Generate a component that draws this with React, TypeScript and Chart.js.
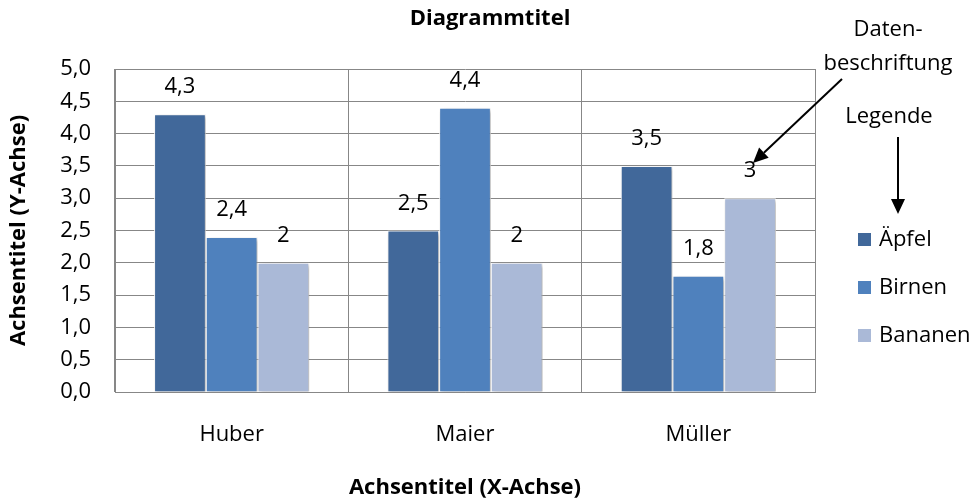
import React, { useEffect, useRef } from "react";
import { Chart, registerables } from "chart.js";

Chart.register(...registerables);

const categories = ["Huber", "Maier", "Müller"];
const seriesNames = ["Äpfel", "Birnen", "Bananen"];
const aepfel = [4.3, 2.5, 3.5];
const birnen = [2.4, 4.4, 1.8];
const bananen = [2, 2, 3];
const colors = ["#41689A", "#4F81BD", "#AAB9D7"];
const yTicksMin = 0;
const yTicksMax = 5;
const yStep = 0.5;

const FONT = "'Open Sans', Lato, sans-serif";
const FS = 22;
const FSB = 22;

const fmt = (v: number) => v.toLocaleString("de-DE");

const drawArrow = (ctx: CanvasRenderingContext2D, x1: number, y1: number, x2: number, y2: number) => {
  const ang = Math.atan2(y2 - y1, x2 - x1);
  const hl = 15, hw = 7;
  const bx = x2 - hl * Math.cos(ang);
  const by = y2 - hl * Math.sin(ang);
  ctx.save();
  ctx.strokeStyle = "#000";
  ctx.fillStyle = "#000";
  ctx.lineWidth = 2;
  ctx.beginPath();
  ctx.moveTo(x1, y1);
  ctx.lineTo(bx, by);
  ctx.stroke();
  ctx.beginPath();
  ctx.moveTo(x2, y2);
  ctx.lineTo(bx + hw * Math.sin(ang), by - hw * Math.cos(ang));
  ctx.lineTo(bx - hw * Math.sin(ang), by + hw * Math.cos(ang));
  ctx.closePath();
  ctx.fill();
  ctx.restore();
};

const extrasPlugin = {
  id: "extras",
  beforeDatasetsDraw(chart: any) {
    const ctx = chart.ctx;
    ctx.save();
    ctx.shadowColor = "rgba(0,0,0,0.3)";
    ctx.shadowBlur = 4;
    ctx.shadowOffsetX = 2;
    ctx.shadowOffsetY = 2;
  },
  afterDatasetsDraw(chart: any) {
    const ctx = chart.ctx;
    ctx.restore();
    ctx.save();
    ctx.font = `${FS}px ${FONT}`;
    ctx.fillStyle = "#000";
    ctx.textAlign = "center";
    ctx.textBaseline = "middle";
    chart.data.datasets.forEach((ds: any, i: number) => {
      const meta = chart.getDatasetMeta(i);
      meta.data.forEach((bar: any, j: number) => {
        ctx.fillText(fmt(ds.data[j]), bar.x, bar.y - 27);
      });
    });
    ctx.restore();
  },
  afterDraw(chart: any) {
    const ctx = chart.ctx;
    ctx.save();
    ctx.fillStyle = "#000";
    ctx.textAlign = "center";
    ctx.textBaseline = "middle";
    ctx.font = `bold ${FSB}px ${FONT}`;
    ctx.fillText("Diagrammtitel", 490, 19);
    ctx.font = `${FS}px ${FONT}`;
    ctx.textAlign = "left";
    const ys = [239, 287, 335];
    chart.data.datasets.forEach((ds: any, i: number) => {
      ctx.fillStyle = ds.backgroundColor;
      ctx.fillRect(858, ys[i] - 6, 13, 13);
      ctx.fillStyle = "#000";
      ctx.fillText(ds.label, 879, ys[i] + 1);
    });
    ctx.textAlign = "center";
    ctx.fillText("Daten-", 888, 30);
    ctx.fillText("beschriftung", 888, 64);
    ctx.fillText("Legende", 889, 117);
    drawArrow(ctx, 842, 79, 753, 163);
    drawArrow(ctx, 898, 137, 898, 214);
    ctx.restore();
  },
};

export default function App() {
  const ref = useRef<HTMLCanvasElement | null>(null);
  useEffect(() => {
    document.body.style.margin = "0";
    if (!ref.current) return;
    const data = [aepfel, birnen, bananen];
    const chart = new Chart(ref.current, {
      type: "bar",
      data: {
        labels: categories,
        datasets: seriesNames.map((name, i) => ({
          label: name,
          data: data[i],
          backgroundColor: colors[i],
          borderColor: "#FFFFFF",
          borderWidth: 1,
          categoryPercentage: 0.665,
          barPercentage: 1,
        })),
      },
      options: {
        animation: false,
        responsive: false,
        maintainAspectRatio: false,
        layout: { padding: { left: 0, right: 165, top: 69, bottom: 0 } },
        plugins: {
          legend: { display: false },
          title: { display: false },
          tooltip: { enabled: false },
        },
        scales: {
          x: {
            afterFit: (s: any) => { s.height = 109; },
            grid: { color: "#878787", lineWidth: 1, drawTicks: false, offset: true },
            border: { color: "#878787" },
            ticks: { color: "#000", font: { family: FONT, size: FS }, padding: 30 },
            title: {
              display: true,
              text: "Achsentitel (X-Achse)",
              color: "#000",
              font: { family: FONT, size: FSB, weight: "bold" },
              padding: { top: 0, bottom: 0 },
            },
          },
          y: {
            min: yTicksMin,
            max: yTicksMax,
            afterFit: (s: any) => { s.width = 115; },
            grid: { color: "#878787", lineWidth: 1, drawTicks: false },
            border: { color: "#878787" },
            ticks: {
              stepSize: yStep,
              color: "#000",
              font: { family: FONT, size: FS },
              padding: 24,
              callback: (v: any) => Number(v).toFixed(1).replace(".", ","),
            },
            title: {
              display: true,
              text: "Achsentitel (Y-Achse)",
              color: "#000",
              font: { family: FONT, size: FSB, weight: "bold" },
              padding: { top: 6, bottom: 0 },
            },
          },
        },
      },
      plugins: [extrasPlugin],
    });
    return () => chart.destroy();
  }, []);
  return <canvas ref={ref} width={980} height={501} style={{ display: "block" }} />;
}
